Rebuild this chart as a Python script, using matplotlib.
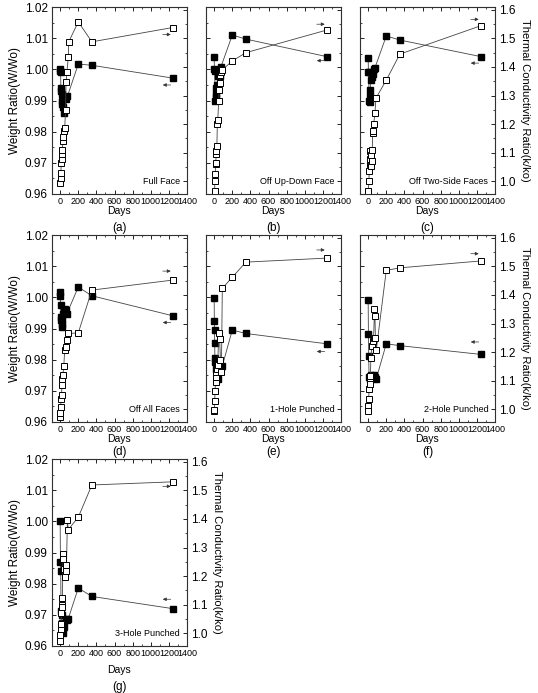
import numpy as np
import matplotlib
matplotlib.use('Agg')
import matplotlib.pyplot as plt
from matplotlib.ticker import MultipleLocator, FormatStrFormatter

plt.rcParams['font.family'] = ['Liberation Sans', 'DejaVu Sans']

names = ['Full Face', 'Off Up-Down Face', 'Off Two-Side Faces', 'Off All Faces',
         '1-Hole Punched', '2-Hole Punched', '3-Hole Punched']
letters = ['(a)', '(b)', '(c)', '(d)', '(e)', '(f)', '(g)']

# weight ratio W/Wo (filled squares, left axis)
days_w_a = [0, 2, 5, 8, 12, 16, 20, 25, 30, 40, 60, 80, 200, 350, 1240]
w_a = [1.000, 0.9995, 0.999, 0.994, 0.993, 0.992, 0.990, 0.989, 0.988, 0.986, 0.9905, 0.9913, 1.0017, 1.0013, 0.9972]
days_w_b = [0, 3, 6, 10, 15, 20, 25, 30, 40, 50, 60, 75, 200, 350, 1240]
w_b = [1.0039, 1.000, 0.9995, 0.990, 0.991, 0.992, 0.994, 0.995, 0.998, 0.9993, 0.998, 1.0008, 1.011, 1.0097, 1.0041]
days_w_c = [0, 3, 6, 10, 15, 20, 25, 30, 40, 50, 60, 75, 200, 350, 1240]
w_c = [1.0036, 0.9993, 0.999, 0.990, 0.9895, 0.9915, 0.9935, 0.9965, 0.9975, 0.9985, 1.000, 1.0005, 1.0107, 1.0094, 1.0041]
days_w_d = [0, 2, 4, 8, 12, 15, 20, 25, 30, 40, 50, 60, 75, 200, 350, 1240]
w_d = [1.0016, 1.0005, 0.9975, 0.9938, 0.9927, 0.9916, 0.9905, 0.993, 0.9945, 0.9955, 0.9964, 0.996, 0.9948, 1.0033, 1.0005, 0.9941]
days_w_e = [0, 2, 4, 6, 8, 10, 20, 30, 45, 60, 75, 90, 200, 350, 1240]
w_e = [0.9998, 0.9925, 0.9894, 0.9854, 0.9804, 0.9791, 0.977, 0.976, 0.9739, 0.9775, 0.9777, 0.978, 0.9895, 0.9884, 0.9851]
days_w_f = [0, 3, 6, 10, 15, 20, 30, 45, 60, 75, 90, 200, 350, 1240]
w_f = [0.999, 0.9883, 0.9813, 0.9744, 0.9739, 0.9745, 0.975, 0.9748, 0.975, 0.9744, 0.9739, 0.9851, 0.9845, 0.9817]
days_w_g = [0, 3, 6, 10, 15, 20, 25, 30, 45, 60, 75, 90, 200, 350, 1240]
w_g = [1.0002, 0.987, 0.9841, 0.9713, 0.970, 0.9675, 0.9659, 0.9643, 0.966, 0.9686, 0.9684, 0.9688, 0.9786, 0.9759, 0.972]

# thermal conductivity ratio k/ko (open squares, right axis)
days_k_a = [0, 4, 8, 12, 16, 20, 25, 30, 35, 40, 50, 60, 65, 75, 90, 95, 200, 350, 1240]
k_a = [0.995, 1.0125, 1.03, 1.065, 1.077, 1.094, 1.11, 1.14, 1.156, 1.174, 1.185, 1.25, 1.348, 1.383, 1.436, 1.488, 1.558, 1.488, 1.538]
days_k_b = [5, 8, 12, 15, 18, 22, 25, 30, 35, 40, 50, 55, 60, 70, 80, 90, 200, 350, 1240]
k_b = [0.967, 1.0, 1.025, 1.06, 1.065, 1.094, 1.106, 1.123, 1.2, 1.214, 1.28, 1.32, 1.343, 1.372, 1.384, 1.39, 1.421, 1.45, 1.529]
days_k_c = [3, 8, 12, 15, 20, 25, 30, 35, 40, 45, 50, 55, 60, 75, 85, 200, 350, 1240]
k_c = [0.967, 1.002, 1.037, 1.06, 1.077, 1.107, 1.09, 1.054, 1.072, 1.11, 1.167, 1.176, 1.2, 1.237, 1.29, 1.354, 1.445, 1.544]
days_k_d = [0, 3, 6, 10, 15, 20, 25, 30, 40, 50, 60, 75, 90, 200, 350, 1240]
k_d = [0.973, 0.985, 1.008, 1.037, 1.049, 1.084, 1.107, 1.12, 1.15, 1.206, 1.218, 1.242, 1.265, 1.267, 1.417, 1.452]
days_k_e = [0, 3, 6, 10, 15, 20, 25, 30, 40, 50, 60, 70, 80, 90, 200, 350, 1240]
k_e = [0.993, 0.997, 1.029, 1.065, 1.095, 1.113, 1.13, 1.142, 1.154, 1.268, 1.247, 1.172, 1.13, 1.423, 1.462, 1.515, 1.529]
days_k_f = [0, 3, 6, 10, 15, 20, 25, 30, 40, 50, 60, 70, 75, 80, 90, 200, 350, 1240]
k_f = [1.012, 0.994, 1.035, 1.069, 1.087, 1.11, 1.116, 1.18, 1.22, 1.237, 1.249, 1.35, 1.327, 1.25, 1.208, 1.486, 1.495, 1.519]
days_k_g = [0, 3, 6, 10, 12, 15, 20, 25, 30, 35, 40, 50, 60, 70, 80, 90, 200, 350, 1240]
k_g = [0.972, 0.995, 1.013, 1.032, 1.07, 1.1, 1.122, 1.093, 1.277, 1.26, 1.225, 1.196, 1.219, 1.237, 1.395, 1.363, 1.406, 1.519, 1.53]

days_w = [days_w_a, days_w_b, days_w_c, days_w_d, days_w_e, days_w_f, days_w_g]
weight = [w_a, w_b, w_c, w_d, w_e, w_f, w_g]
days_k = [days_k_a, days_k_b, days_k_c, days_k_d, days_k_e, days_k_f, days_k_g]
cond = [k_a, k_b, k_c, k_d, k_e, k_f, k_g]

# arrow heights (axes fraction): -> for k/ko, <- for W/Wo
arrow_k = [0.853, 0.908, 0.934, 0.807, 0.92, 0.90, 0.854]
arrow_w = [0.583, 0.713, 0.70, 0.532, 0.377, 0.428, 0.25]

W, H = 538, 693
fig = plt.figure(figsize=(W / 100, H / 100), dpi=100)
fig.patch.set_facecolor('white')

col_x = [52, 206, 360]
row_top = [7, 235, 459]
pw, ph = 135, 187
letter_y = [228, 452, 687]

for i in range(7):
    r, c = i // 3, i % 3
    ax = fig.add_axes([col_x[c] / W, 1 - (row_top[r] + ph) / H, pw / W, ph / H])
    ax2 = ax.twinx()

    ax.plot(days_w[i], weight[i], '-s', color='#444444', lw=0.6, ms=4.5,
            mfc='black', mec='black')
    ax2.plot(days_k[i], cond[i], '-s', color='#444444', lw=0.6, ms=4.5,
             mfc='white', mec='black', mew=0.7)

    ax.set_xlim(-90, 1400)
    ax.set_ylim(0.96, 1.02)
    ax2.set_ylim(0.955, 1.61)

    ax.xaxis.set_major_locator(MultipleLocator(200))
    ax.xaxis.set_minor_locator(MultipleLocator(100))
    ax.yaxis.set_major_locator(MultipleLocator(0.01))
    ax.yaxis.set_minor_locator(MultipleLocator(0.005))
    ax.yaxis.set_major_formatter(FormatStrFormatter('%.2f'))
    ax2.yaxis.set_major_locator(MultipleLocator(0.1))
    ax2.yaxis.set_minor_locator(MultipleLocator(0.05))
    ax2.yaxis.set_major_formatter(FormatStrFormatter('%.1f'))

    ax.tick_params(which='both', direction='in', top=True, labelsize=6.5, pad=2)
    ax.tick_params(axis='y', labelsize=8.5, pad=3)
    ax.tick_params(which='major', length=3, width=0.6)
    ax.tick_params(which='minor', length=1.5, width=0.5)
    ax2.tick_params(which='both', direction='in', labelsize=8.5, pad=3)
    ax2.tick_params(which='major', length=3, width=0.6)
    ax2.tick_params(which='minor', length=1.5, width=0.5)
    for sp in ax2.spines.values():
        sp.set_linewidth(0.7)
        sp.set_color('#333333')

    if c == 0:
        ax.set_ylabel('Weight Ratio(W/Wo)', fontsize=8.5, labelpad=3)
    else:
        ax.tick_params(axis='y', labelleft=False)
    if c == 2 or i == 6:
        ax2.set_ylabel('Thermal Conductivity Ratio(k/ko)', fontsize=8,
                       rotation=270, labelpad=10)
    else:
        ax2.tick_params(axis='y', labelright=False)

    ax.set_xlabel('Days', fontsize=7.5, labelpad=0 if r < 2 else 5)

    ax.text(0.95, 0.045, names[i], transform=ax.transAxes, ha='right',
            va='bottom', fontsize=6.5)

    ax.annotate('', xy=(0.9, arrow_k[i]), xytext=(0.8, arrow_k[i]),
                xycoords='axes fraction',
                arrowprops=dict(arrowstyle='-|>', lw=0.5, color='#333333',
                                mutation_scale=5))
    ax.annotate('', xy=(0.8, arrow_w[i]), xytext=(0.9, arrow_w[i]),
                xycoords='axes fraction',
                arrowprops=dict(arrowstyle='-|>', lw=0.5, color='#333333',
                                mutation_scale=5))

    fig.text((col_x[c] + pw / 2) / W, 1 - letter_y[r] / H, letters[i],
             ha='center', va='center', fontsize=8.5)

plt.savefig('out.png', dpi=100)
